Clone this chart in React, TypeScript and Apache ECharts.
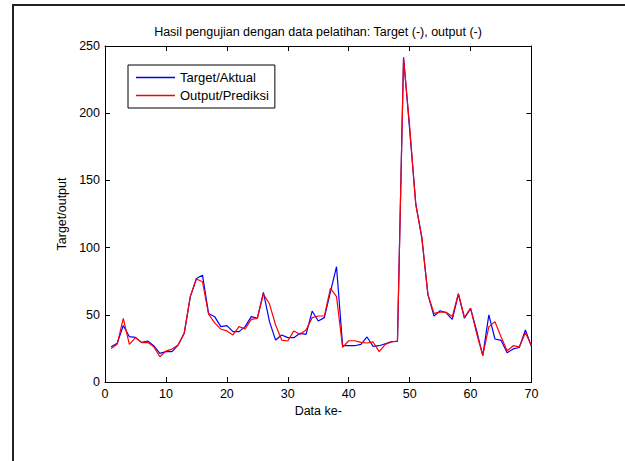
import React, { useEffect, useRef } from "react";
import * as echarts from "echarts";

const titleText = "Hasil pengujian dengan data pelatihan: Target (-), output (-)";
const xAxisName = "Data ke-";
const yAxisName = "Target/output";
const seriesNames = ["Target/Aktual", "Output/Prediksi"];
const seriesColors = ["#0000ff", "#ff0000"];

const dataIndex = Array.from({ length: 70 }, (_, i) => i + 1);

const targetValues = [
  26.3, 28.8, 42, 33.7, 33.2, 29.5, 30.5, 27, 21.3, 22.6,
  22.6, 27.5, 36.2, 63.5, 77, 79.5, 51, 48.6, 41.2, 41.9,
  37.5, 37.5, 41.2, 48.6, 47.4, 66.7, 44.9, 31.2, 35, 33,
  33, 36.2, 35.5, 52.8, 45.4, 47.9, 67, 85.8, 27, 27,
  27, 28, 33.5, 26.5, 27, 28.5, 30, 30.3, 241.6, 188,
  133, 107, 65, 49, 53, 51.5, 46.6, 65.2, 47.4, 54.8,
  38, 19.6, 49.9, 32, 31, 21.8, 24.6, 25.7, 38.7, 26.3,
];

const outputValues = [
  25, 28, 47.4, 28, 33, 29.3, 29.5, 26.3, 18.8, 23,
  24.5, 27.5, 36.2, 63.5, 76.6, 74.6, 50.4, 44, 39.4, 38,
  35, 41.2, 39.4, 46.6, 47.4, 65.5, 58, 42.4, 31.2, 30.5,
  38, 35.5, 38.7, 47.9, 49.1, 49.1, 69.7, 63.5, 25.8, 30.7,
  30.7, 29.5, 29, 29.8, 22.6, 28, 29.8, 30.5, 241, 190,
  132, 108, 65, 51, 52, 52, 48.7, 66, 48, 55,
  36, 19.8, 41, 44.9, 33.7, 23.3, 27, 26.2, 36.7, 27,
];

const FONT = "'Liberation Sans', Arial, Helvetica, sans-serif";

export default function App() {
  const ref = useRef<HTMLDivElement>(null);
  useEffect(() => {
    if (!ref.current) return;
    const chart = echarts.init(ref.current, null, { renderer: "svg" });
    const tickCommon = {
      show: true,
      inside: true,
      length: 5,
      lineStyle: { color: "#000", width: 1 },
    };
    const axisLineCommon = {
      show: true,
      onZero: false,
      lineStyle: { color: "#000", width: 1 },
    };
    chart.setOption({
      animation: false,
      backgroundColor: "#fff",
      textStyle: { fontFamily: FONT },
      grid: { left: 105, right: 93.5, top: 46, bottom: 79, show: false },
      legend: {
        orient: "vertical",
        left: 128,
        top: 65,
        data: seriesNames.map((name, i) => ({
          name,
          icon: "rect",
          itemStyle: { color: seriesColors[i], borderWidth: 0 },
        })),
        borderColor: "#000",
        borderWidth: 1,
        backgroundColor: "#fff",
        padding: [5, 6, 5, 8],
        itemWidth: 39,
        itemHeight: 1.3,
        itemGap: 3,
        textStyle: { color: "#000", fontSize: 13, lineHeight: 15, fontFamily: FONT },
      },
      xAxis: [
        {
          type: "value",
          min: 0,
          max: 70,
          interval: 10,
          position: "bottom",
          axisLine: axisLineCommon,
          axisTick: tickCommon,
          axisLabel: { color: "#000", fontSize: 12.5, margin: 5, fontFamily: FONT },
          splitLine: { show: false },
          name: xAxisName,
          nameLocation: "middle",
          nameGap: 20,
          nameTextStyle: { color: "#000", fontSize: 12.5, fontFamily: FONT },
        },
        {
          type: "value",
          min: 0,
          max: 70,
          interval: 10,
          position: "top",
          axisLine: axisLineCommon,
          axisTick: tickCommon,
          axisLabel: { show: false },
          splitLine: { show: false },
        },
      ],
      yAxis: [
        {
          type: "value",
          min: 0,
          max: 250,
          interval: 50,
          position: "left",
          axisLine: axisLineCommon,
          axisTick: tickCommon,
          axisLabel: { color: "#000", fontSize: 12.5, margin: 5, fontFamily: FONT },
          splitLine: { show: false },
          name: yAxisName,
          nameLocation: "middle",
          nameRotate: 90,
          nameGap: 29,
          nameTextStyle: { color: "#000", fontSize: 12.5, fontFamily: FONT },
        },
        {
          type: "value",
          min: 0,
          max: 250,
          interval: 50,
          position: "right",
          axisLine: axisLineCommon,
          axisTick: tickCommon,
          axisLabel: { show: false },
          splitLine: { show: false },
        },
      ],
      series: [
        {
          name: seriesNames[0],
          type: "line",
          xAxisIndex: 0,
          yAxisIndex: 0,
          symbol: "none",
          lineStyle: { color: seriesColors[0], width: 1.2 },
          itemStyle: { color: seriesColors[0] },
          data: dataIndex.map((x, i) => [x, targetValues[i]]),
        },
        {
          name: seriesNames[1],
          type: "line",
          xAxisIndex: 0,
          yAxisIndex: 0,
          symbol: "none",
          lineStyle: { color: seriesColors[1], width: 1.2 },
          itemStyle: { color: seriesColors[1] },
          data: dataIndex.map((x, i) => [x, outputValues[i]]),
        },
      ],
      graphic: [
        {
          type: "text",
          x: 318,
          y: 32,
          style: {
            text: titleText,
            fill: "#000",
            font: `12.5px ${FONT}`,
            textAlign: "center",
            textVerticalAlign: "middle",
          },
        },
        {
          type: "polyline",
          shape: { points: [[13, 461], [13, 5], [625, 5]] },
          style: { stroke: "#222", lineWidth: 2, fill: "none" },
        },
      ],
    });
    return () => chart.dispose();
  }, []);
  return (
    <div
      ref={ref}
      style={{ position: "fixed", left: 0, top: 0, width: 625, height: 461 }}
    />
  );
}
